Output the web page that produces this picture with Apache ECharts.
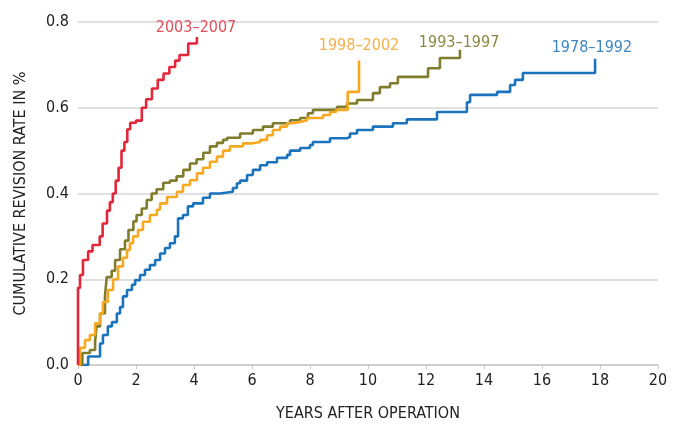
<!DOCTYPE html>
<html>
<head>
<meta charset="utf-8">
<script src="https://cdn.jsdelivr.net/npm/echarts@6/dist/echarts.min.js"></script>
<style>html,body{margin:0;padding:0;background:#fff;}#c{width:682px;height:428px;}</style>
</head>
<body>
<div id="c"></div>
<script>
const xTicks = [0, 2, 4, 6, 8, 10, 12, 14, 16, 18, 20];
const yTicks = [0.0, 0.2, 0.4, 0.6, 0.8];
const seriesNames = ['2003–2007', '1998–2002', '1993–1997', '1978–1992'];

const redT = [0, 0, 0.07, 0.17, 0.35, 0.5, 0.75, 0.85, 1.0, 1.1, 1.2, 1.3, 1.4, 1.5, 1.6, 1.7, 1.8, 2.0, 2.2, 2.35, 2.55, 2.75, 2.95, 3.15, 3.35, 3.5, 3.8, 4.1];
const redV = [0, 0.18, 0.21, 0.245, 0.265, 0.28, 0.30, 0.33, 0.36, 0.38, 0.40, 0.43, 0.46, 0.50, 0.52, 0.55, 0.565, 0.57, 0.60, 0.62, 0.645, 0.665, 0.68, 0.695, 0.71, 0.723, 0.75, 0.765];

const orangeT = [0, 0.07, 0.24, 0.41, 0.59, 0.76, 0.86, 1.03, 1.21, 1.38, 1.55, 1.69, 1.79, 1.9, 2.07, 2.24, 2.48, 2.72, 2.83, 3.07, 3.41, 3.62, 3.86, 4.1, 4.31, 4.55, 4.79, 5.0, 5.24, 5.69, 6.03, 6.28, 6.52, 6.72, 6.97, 7.21, 7.41, 7.66, 7.9, 8.45, 8.69, 8.9, 9.3, 9.69];
const orangeV = [0, 0.04, 0.058, 0.07, 0.097, 0.12, 0.147, 0.175, 0.2, 0.23, 0.25, 0.268, 0.284, 0.3, 0.315, 0.334, 0.35, 0.362, 0.377, 0.392, 0.404, 0.42, 0.431, 0.447, 0.46, 0.474, 0.486, 0.5, 0.51, 0.517, 0.52, 0.525, 0.536, 0.548, 0.556, 0.564, 0.567, 0.571, 0.576, 0.583, 0.59, 0.595, 0.637, 0.71];

const oliveT = [0, 0.15, 0.41, 0.59, 0.64, 0.76, 0.93, 0.99, 1.16, 1.28, 1.45, 1.62, 1.74, 1.91, 2.02, 2.2, 2.37, 2.54, 2.71, 2.94, 3.17, 3.4, 3.63, 3.86, 4.09, 4.32, 4.55, 4.79, 5.0, 5.14, 5.59, 6.03, 6.38, 6.72, 7.31, 7.66, 7.93, 8.1, 8.93, 9.28, 9.62, 10.17, 10.41, 10.76, 11.03, 12.07, 12.48, 13.17];
const oliveV = [0, 0.028, 0.035, 0.055, 0.09, 0.12, 0.16, 0.205, 0.22, 0.245, 0.27, 0.29, 0.315, 0.335, 0.35, 0.365, 0.385, 0.40, 0.41, 0.425, 0.43, 0.44, 0.455, 0.47, 0.48, 0.495, 0.51, 0.518, 0.525, 0.53, 0.54, 0.548, 0.556, 0.564, 0.571, 0.576, 0.587, 0.595, 0.602, 0.61, 0.618, 0.634, 0.648, 0.657, 0.672, 0.692, 0.716, 0.735];

const blueT = [0, 0.35, 0.76, 0.86, 1.03, 1.17, 1.34, 1.45, 1.55, 1.69, 1.86, 1.97, 2.14, 2.31, 2.48, 2.66, 2.83, 3.0, 3.17, 3.34, 3.45, 3.62, 3.79, 3.97, 4.31, 4.55, 4.9, 5.34, 5.48, 5.59, 5.83, 6.03, 6.28, 6.52, 6.86, 7.21, 7.31, 7.66, 8.0, 8.1, 8.69, 9.28, 9.38, 9.62, 10.17, 10.86, 11.34, 12.38, 13.41, 13.52, 14.45, 14.9, 15.07, 15.34, 17.83];
const blueV = [0, 0.02, 0.05, 0.07, 0.09, 0.10, 0.12, 0.135, 0.16, 0.175, 0.187, 0.198, 0.21, 0.222, 0.233, 0.245, 0.26, 0.273, 0.284, 0.30, 0.342, 0.35, 0.37, 0.377, 0.39, 0.40, 0.404, 0.413, 0.424, 0.43, 0.443, 0.455, 0.466, 0.473, 0.483, 0.49, 0.50, 0.506, 0.513, 0.52, 0.529, 0.532, 0.54, 0.548, 0.556, 0.564, 0.573, 0.59, 0.613, 0.63, 0.637, 0.653, 0.665, 0.681, 0.714];

// label anchor positions (data units)
const labelX = [4.07, 9.69, 13.14, 17.72];
const labelY = [0.786, 0.744, 0.751, 0.739];

const lineColors = ['#e3263a', '#f6a821', '#7f7c2b', '#1b73bc'];
const labelColors = ['#e2505c', '#f4b04a', '#8b8744', '#3f86c4'];

const FONT = '"Liberation Sans Narrow", "DejaVu Sans Condensed", "Open Sans", sans-serif';

function zip(t, v) { return t.map((x, i) => [x, v[i]]); }
const allData = [zip(redT, redV), zip(orangeT, orangeV), zip(oliveT, oliveV), zip(blueT, blueV)];

const series = allData.map((d, i) => ({
  name: seriesNames[i],
  type: 'line',
  step: 'end',
  data: d,
  symbol: 'none',
  z: 10 - i,
  lineStyle: { color: lineColors[i], width: 2.6 },
  markPoint: {
    symbol: 'circle',
    symbolSize: 0,
    silent: true,
    data: [{ coord: [labelX[i], labelY[i]] }],
    label: {
      show: true,
      formatter: seriesNames[i],
      color: labelColors[i],
      fontFamily: FONT,
      fontSize: 16,
      position: 'inside'
    }
  }
}));

const chart = echarts.init(document.getElementById('c'), null, { renderer: 'canvas' });
chart.setOption({
  animation: false,
  backgroundColor: '#ffffff',
  grid: { left: 78, right: 24, top: 22, bottom: 63, containLabel: false },
  xAxis: {
    type: 'value', min: xTicks[0], max: xTicks[xTicks.length - 1], interval: 2,
    name: 'YEARS AFTER OPERATION', nameLocation: 'middle', nameGap: 41,
    nameTextStyle: { fontFamily: FONT, fontSize: 16, color: '#222' },
    axisLine: { show: true, lineStyle: { color: '#c8c8c8', width: 1.5 } },
    axisTick: { show: true, length: 4, lineStyle: { color: '#c8c8c8' } },
    axisLabel: { fontFamily: FONT, fontSize: 16, color: '#222', margin: 8 },
    splitLine: { show: false }
  },
  yAxis: {
    type: 'value', min: yTicks[0], max: yTicks[yTicks.length - 1], interval: 0.2,
    name: 'CUMULATIVE REVISION RATE IN %', nameLocation: 'middle', nameGap: 49, nameRotate: 90,
    nameTextStyle: { fontFamily: FONT, fontSize: 16, color: '#222' },
    axisLine: { show: false },
    axisTick: { show: false },
    axisLabel: { fontFamily: FONT, fontSize: 16, color: '#222', margin: 9, formatter: v => v.toFixed(1) },
    splitLine: { show: true, lineStyle: { color: '#d6d6d6', width: 1.5 } }
  },
  series: series
});
</script>
</body>
</html>
